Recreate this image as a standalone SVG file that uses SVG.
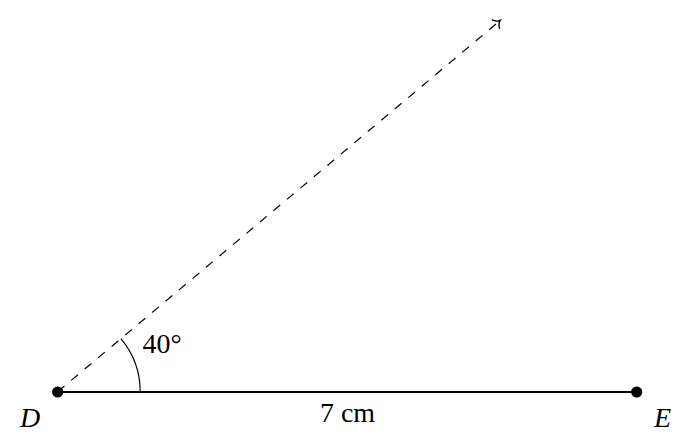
<svg xmlns="http://www.w3.org/2000/svg" width="696" height="444" viewBox="0 0 696 444">
<style>
text{font-family:"Liberation Serif","DejaVu Serif",serif;font-size:28px;fill:#000}
.it{font-style:italic}
.ray{stroke:#000;stroke-width:1.2;stroke-dasharray:8.8 8.8;fill:none}
.seg{stroke:#000;stroke-width:1.8;fill:none}
.arc{stroke:#000;stroke-width:1.2;fill:none}
.pt{fill:#000}
</style>
<defs>
<marker id="to" viewBox="-8 -7 10 14" markerWidth="10" markerHeight="14" refX="0" refY="0" orient="auto" markerUnits="userSpaceOnUse">
<path d="M-5.5,-5.5 C-4,-2 -1.6,-0.5 0,0 C-1.6,0.5 -4,2 -5.5,5.5" fill="none" stroke="#000" stroke-width="1.4" stroke-linecap="round"/>
</marker>
</defs>
<g id="connectors">
<path class="ray" d="M57.7,391.7 L500.2,20.5" marker-end="url(#to)"/>
<path class="seg" d="M57.7,392 L636.7,392"/>
<path class="arc" d="M140.2,392 A82.5,82.5 0 0 0 120.9,338.7"/>
</g>
<g id="D"><circle class="pt" cx="57.7" cy="392" r="5.6"/><text class="it" x="20" y="427">D</text></g>
<g id="E"><circle class="pt" cx="636.7" cy="392" r="5.6"/><text class="it" x="654" y="427">E</text></g>
<g id="angle"><text x="142.5" y="353">40°</text></g>
<g id="length"><text x="347.5" y="421.7" text-anchor="middle">7 cm</text></g>
</svg>
